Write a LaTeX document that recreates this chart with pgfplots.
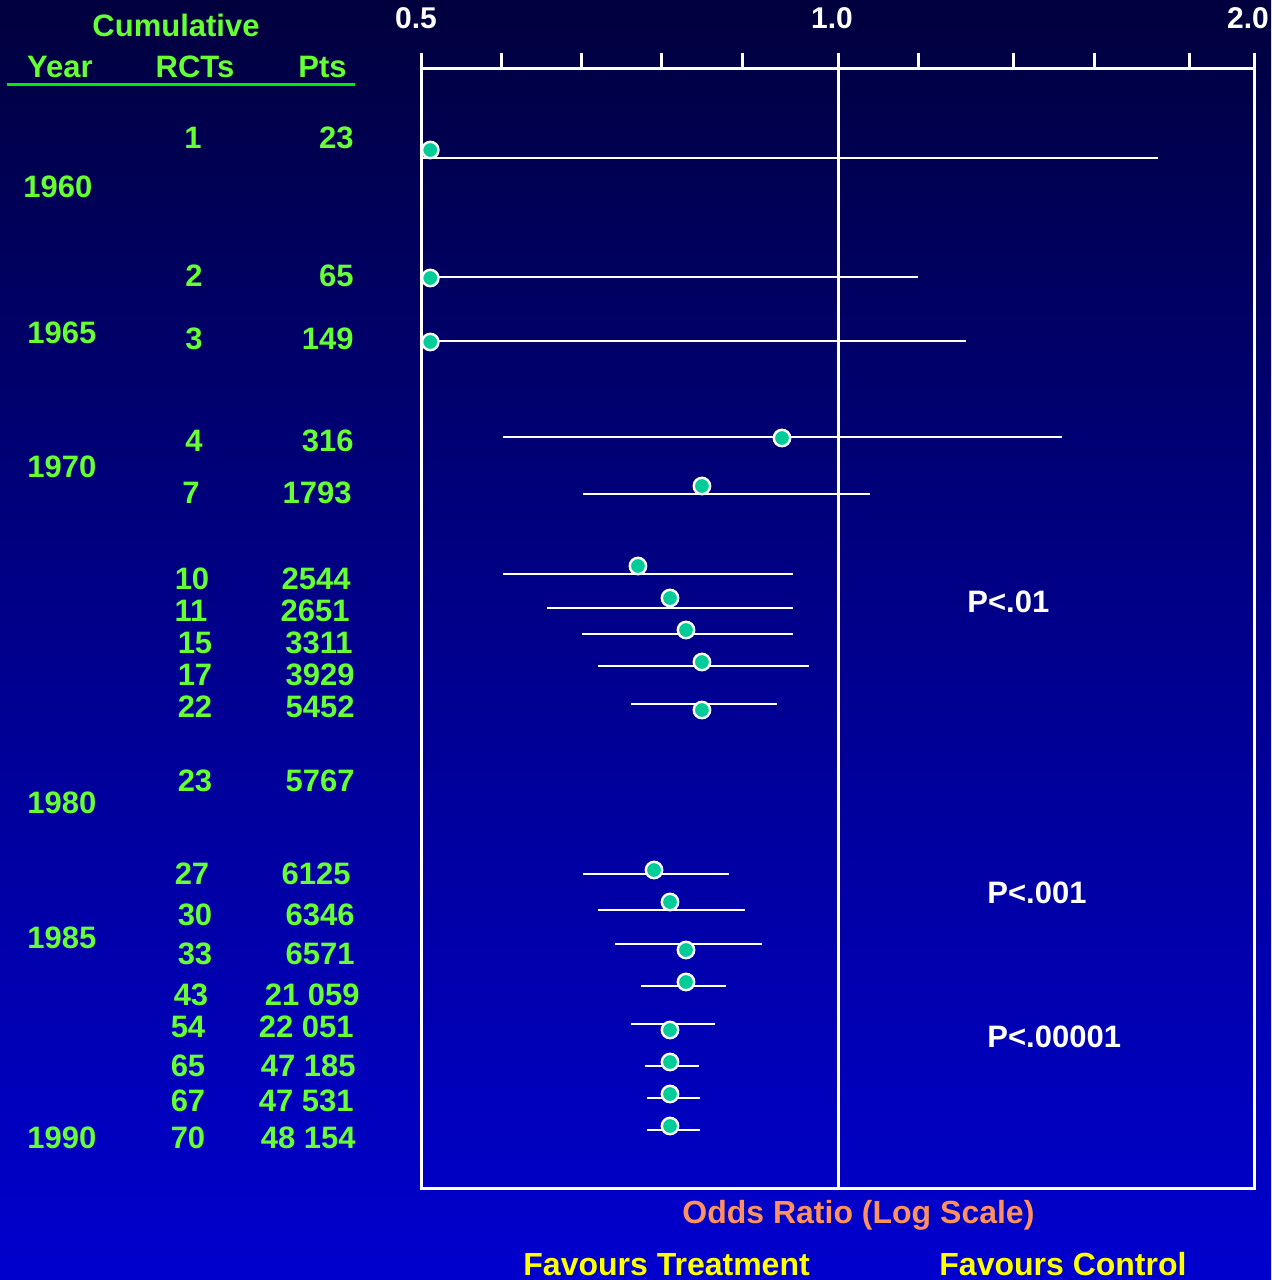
\documentclass[border=0pt]{standalone}
\usepackage{pgfplots}
\pgfplotsset{compat=1.18}
\usepackage{fontspec}
\setmainfont{Liberation Sans}
\definecolor{bgtop}{RGB}{0,0,62}
\definecolor{bgmid}{RGB}{0,0,140}
\definecolor{bgbot}{RGB}{0,0,206}
\definecolor{tgreen}{RGB}{102,255,51}
\definecolor{lgreen}{RGB}{0,235,0}
\definecolor{dotc}{RGB}{0,204,153}
\definecolor{orlab}{RGB}{255,145,95}
\definecolor{yel}{RGB}{255,255,0}
\pgfplotstableread{
or    y
0.507 1130
0.507 1002
0.507 938
0.9109 842
0.7972 794
0.7166 714
0.7559 682
0.7763 650
0.7972 618
0.7972 570
0.7360 410
0.7559 378
0.7763 330
0.7763 298
0.7559 250
0.7559 218
0.7559 186
0.7559 154
}\dots
\begin{document}
\begin{tikzpicture}
\useasboundingbox (0,0) rectangle (635.5pt,-640pt);
\shade[top color=bgtop, bottom color=bgbot, middle color=bgmid] (0,0) rectangle (635.5pt,-640pt);
\begin{axis}[
  at={(211pt,-594pt)}, anchor=south west,
  scale only axis, width=416pt, height=560pt,
  xmode=log, log basis x=2,
  xmin=0.5, xmax=2, ymin=92, ymax=1212,
  axis line style={white, line width=1.5pt},
  xtick={0.5,1,2}, xticklabels={0.5,1.0,2.0},
  extra x ticks={0.5713,0.6527,0.7458,0.8522,1.1426,1.3407,1.5320,1.7977},
  extra x tick labels={},
  xtick pos=right, xticklabel pos=right,
  tick align=outside, major tick length=7.5pt,
  tick style={white, line width=1.5pt},
  ytick=\empty,
  x tick label style={text=white, font=\bfseries\fontsize{15}{15}\selectfont, anchor=south, inner sep=0pt, yshift=12pt, xshift=-3pt},
  /pgf/number format/assume math mode=true,
  clip=false,
  ci/.style={white, line width=1.45pt, no marks},
]
\addplot[white, line width=1.5pt, no marks] coordinates {(1,92) (1,1212)};
\addplot[ci] coordinates {(0.5,1122) (1.7044,1122)};
\addplot[ci] coordinates {(0.5,1003) (1.1426,1003)};
\addplot[ci] coordinates {(0.5,939) (1.2377,939)};
\addplot[ci] coordinates {(0.5722,843) (1.4524,843)};
\addplot[ci] coordinates {(0.6539,786) (1.0548,786)};
\addplot[ci] coordinates {(0.5722,706) (0.9278,706)};
\addplot[ci] coordinates {(0.6158,672) (0.9278,672)};
\addplot[ci] coordinates {(0.6527,646) (0.9278,646)};
\addplot[ci] coordinates {(0.6704,614) (0.9529,614)};
\addplot[ci] coordinates {(0.7083,576) (0.9034,576)};
\addplot[ci] coordinates {(0.6539,406) (0.8340,406)};
\addplot[ci] coordinates {(0.6704,370) (0.8565,370)};
\addplot[ci] coordinates {(0.6897,336) (0.8811,336)};
\addplot[ci] coordinates {(0.7202,294) (0.8298,294)};
\addplot[ci] coordinates {(0.7083,256) (0.8147,256)};
\addplot[ci] coordinates {(0.7250,214) (0.7933,214)};
\addplot[ci] coordinates {(0.7274,182) (0.7946,182)};
\addplot[ci] coordinates {(0.7274,150) (0.7946,150)};
\addplot[only marks, mark=*, mark size=4.1pt, mark options={fill=dotc, draw=white, line width=1.2pt}] table[x=or, y=y] {\dots};
\end{axis}
\begin{scope}[x=0.5pt,y=-0.5pt, every node/.style={font=\bfseries\fontsize{15.5}{18}\selectfont, text=tgreen, inner sep=0pt}]
\node[anchor=base] at (176,36) {Cumulative};
\node[anchor=base] at (60,77) {Year};
\node[anchor=base] at (195,77) {RCTs};
\node[anchor=base east] at (347,77) {Pts};
\draw[lgreen, line width=1.5pt] (7,84) -- (355,84);
% years
\node[anchor=base west] at (23,197) {1960};
\node[anchor=base west] at (27,343) {1965};
\node[anchor=base west] at (27,477) {1970};
\node[anchor=base west] at (27,813) {1980};
\node[anchor=base west] at (27,948) {1985};
\node[anchor=base west] at (27,1148) {1990};
% RCTs
\node[anchor=base] at (193,148) {1};
\node[anchor=base] at (194,286) {2};
\node[anchor=base] at (194,349) {3};
\node[anchor=base] at (194,451) {4};
\node[anchor=base] at (191,503) {7};
\node[anchor=base] at (192,589) {10};
\node[anchor=base] at (191,621) {11};
\node[anchor=base] at (195,653) {15};
\node[anchor=base] at (195,685) {17};
\node[anchor=base] at (195,717) {22};
\node[anchor=base] at (195,791) {23};
\node[anchor=base] at (192,884) {27};
\node[anchor=base] at (195,925) {30};
\node[anchor=base] at (195,964) {33};
\node[anchor=base] at (191,1005) {43};
\node[anchor=base] at (188,1037) {54};
\node[anchor=base] at (188,1076) {65};
\node[anchor=base] at (188,1111) {67};
\node[anchor=base] at (188,1148) {70};
% Pts
\node[anchor=base east] at (354,148) {23};
\node[anchor=base east] at (354,286) {65};
\node[anchor=base east] at (354,349) {149};
\node[anchor=base east] at (354,451) {316};
\node[anchor=base east] at (352,503) {1793};
\node[anchor=base east] at (351,589) {2544};
\node[anchor=base east] at (350,621) {2651};
\node[anchor=base east] at (353,653) {3311};
\node[anchor=base east] at (355,685) {3929};
\node[anchor=base east] at (355,717) {5452};
\node[anchor=base east] at (355,791) {5767};
\node[anchor=base east] at (351,884) {6125};
\node[anchor=base east] at (355,925) {6346};
\node[anchor=base east] at (355,964) {6571};
\node[anchor=base east] at (360,1005) {21 059};
\node[anchor=base east] at (354,1037) {22 051};
\node[anchor=base east] at (356,1076) {47 185};
\node[anchor=base east] at (354,1111) {47 531};
\node[anchor=base east] at (356,1148) {48 154};
% P values
\node[anchor=base west, text=white] at (967,612) {P<.01};
\node[anchor=base west, text=white] at (987,903) {P<.001};
\node[anchor=base west, text=white] at (987,1047) {P<.00001};
% axis captions
\node[anchor=base west, text=orlab, font=\bfseries\fontsize{16}{18}\selectfont] at (682,1223) {Odds Ratio (Log Scale)};
\node[anchor=base west, text=yel, font=\bfseries\fontsize{16}{18}\selectfont] at (523,1275) {Favours Treatment};
\node[anchor=base west, text=yel, font=\bfseries\fontsize{16}{18}\selectfont] at (939,1275) {Favours Control};
\end{scope}
\end{tikzpicture}
\end{document}
